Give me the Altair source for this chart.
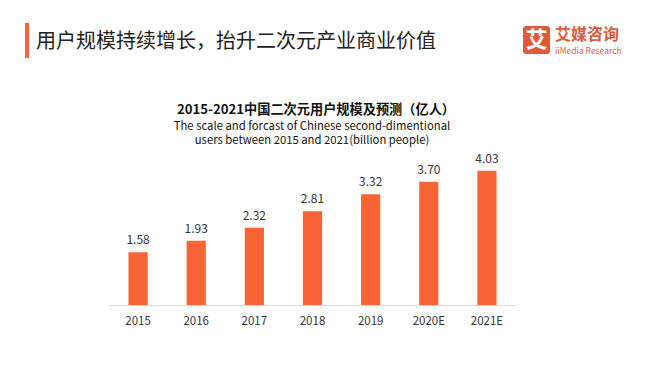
import altair as alt
import pandas as pd

years = ["2015", "2016", "2017", "2018", "2019", "2020E", "2021E"]
users = [1.58, 1.93, 2.32, 2.81, 3.32, 3.70, 4.03]
labels = ["1.58", "1.93", "2.32", "2.81", "3.32", "3.70", "4.03"]

heading = "用户规模持续增长，抬升二次元产业商业价值"
title_cn = "2015-2021中国二次元用户规模及预测（亿人）"
title_en1 = "The scale and forcast of Chinese second-dimentional"
title_en2 = "users between 2015 and 2021(billion people)"
logo_cn = "艾媒咨询"
logo_en = "iiMedia Research"
logo_mark = "艾"

df = pd.DataFrame({"year": years, "users": users, "label": labels})

FONT = "Noto Sans CJK SC"
ORANGE = "#F96436"
LOGO = "#E05A38"

W, H = 407, 150
LEFT, TOP = 109, 155

x = alt.X("year:N", sort=years,
          scale=alt.Scale(paddingInner=0.67, paddingOuter=0.335),
          axis=alt.Axis(title=None, labelAngle=0, ticks=False, grid=False,
                        domainColor="#D9D9D9", domainWidth=1,
                        labelFont=FONT, labelFontSize=11.5, labelColor="#333333",
                        labelPadding=10))
y = alt.Y("users:Q", scale=alt.Scale(domain=[0, 4.5], nice=False), axis=None)

base = alt.Chart(df)
bars = base.mark_bar(color=ORANGE).encode(x=x, y=y)
text = base.mark_text(dy=-12, font=FONT, fontSize=12, color="#333333").encode(
    x=x, y=y, text="label:N")

def txt(s, px, py, size, color="#222222", weight="normal", align="center", font=FONT):
    return alt.Chart(pd.DataFrame({"t": [s]})).mark_text(
        font=font, fontSize=size, color=color, fontWeight=weight,
        align=align, baseline="middle").encode(
        x=alt.value(px - LEFT), y=alt.value(py - TOP), text="t:N")

bar_accent = alt.Chart(pd.DataFrame({"a": [0]})).mark_rect(color=ORANGE).encode(
    x=alt.value(25 - LEFT), x2=alt.value(29 - LEFT),
    y=alt.value(23 - TOP), y2=alt.value(58 - TOP))
logo_box = alt.Chart(pd.DataFrame({"a": [0]})).mark_rect(
    color=LOGO, cornerRadius=3).encode(
    x=alt.value(523 - LEFT), x2=alt.value(550 - LEFT),
    y=alt.value(26 - TOP), y2=alt.value(54 - TOP))

layers = [
    bars, text, bar_accent, logo_box,
    txt(heading, 36, 42, 20, color="#222222", align="left"),
    txt(logo_mark, 536.5, 40, 22, color="#FFFFFF", weight="bold"),
    txt(logo_cn, 555, 34.5, 16, color=LOGO, weight="bold", align="left"),
    txt(logo_en, 555, 50.5, 8.5, color=LOGO, align="left"),
    txt(title_cn, 316, 109.5, 13.2, color="#111111", weight="bold"),
    txt(title_en1, 312, 126.5, 11.3, color="#111111"),
    txt(title_en2, 312, 141, 11.3, color="#111111"),
]

chart = alt.layer(*layers).properties(
    width=W, height=H,
    autosize=alt.AutoSizeParams(type="none"),
    padding={"left": LEFT, "top": TOP, "right": 662 - LEFT - W, "bottom": 375 - TOP - H},
    background="white",
).configure_view(stroke=None)

chart.save("out.html", embed_options={"renderer": "svg", "actions": False})
